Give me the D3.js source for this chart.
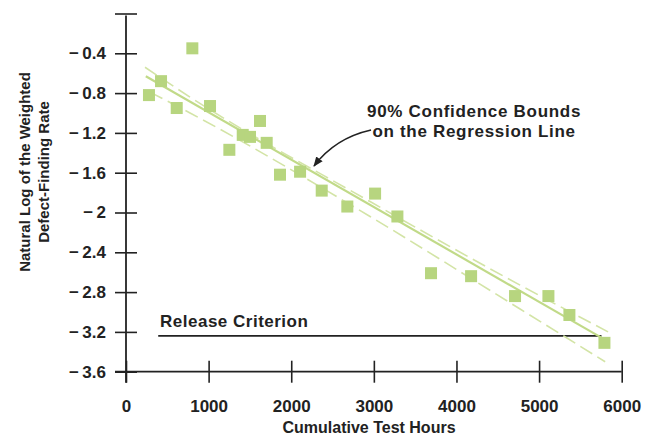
<!DOCTYPE html>
<meta charset="utf-8" />
<style>
  body { margin: 0; background: #fff; }
  text { font-family: "Liberation Sans", Arial, Helvetica, sans-serif; font-weight: bold; fill: #222; }
</style>
<script src="https://cdn.jsdelivr.net/npm/d3@7"></script>

<svg width="652" height="436" id="chart"></svg>

<script>
  // test data
  var hours    = [278, 424, 803, 614, 1017, 1251, 1413, 1501, 1622, 1703, 1864, 2107, 2369, 2679, 3015, 3285, 3692, 4177, 4709, 5113, 5367, 5791];
  var logRate  = [-0.82, -0.68, -0.35, -0.95, -0.93, -1.37, -1.22, -1.24, -1.08, -1.30, -1.62, -1.59, -1.78, -1.94, -1.81, -2.04, -2.61, -2.64, -2.84, -2.84, -3.03, -3.31];

  // regression line and its 90% bounds
  var regHours    = [240, 5760];
  var regValues   = [-0.63, -3.26];
  var upperHours  = [230, 775, 2954, 4770, 5835];
  var upperValues = [-0.54, -0.84, -1.89, -2.73, -3.20];
  var lowerHours  = [290, 775, 2954, 4770, 5800];
  var lowerValues = [-0.79, -1.00, -2.04, -2.97, -3.50];

  var releaseLevel = -3.24;
  var releaseHours = [390, 5755];

  var xTicks = [0, 1000, 2000, 3000, 4000, 5000, 6000];
  var yTicks = [0, -0.4, -0.8, -1.2, -1.6, -2, -2.4, -2.8, -3.2, -3.6];

  var svg = d3.select("#chart");

  var x = d3.scaleLinear().domain([0, 6000]).range([126, 621.7]);
  var y = d3.scaleLinear().domain([-3.6, -0.4]).range([371.7, 53.3]);

  var zip = function (a, b) { return a.map(function (v, i) { return [v, b[i]]; }); };

  // axes
  var yAxis = svg.append("g")
    .attr("transform", "translate(" + x(0) + ",0)")
    .call(d3.axisLeft(y).tickValues(yTicks).tickSize(11).tickPadding(9)
      .tickFormat(function (d) { return d === 0 ? "" : "\u2212\u2009" + Math.abs(d); }));
  yAxis.select(".domain").remove();
  yAxis.selectAll(".tick line").attr("x1", 11).attr("stroke", "#222").attr("stroke-width", 1.6);
  yAxis.selectAll(".tick text").style("font-size", "17px").attr("fill", "#222");

  var xAxis = svg.append("g")
    .attr("transform", "translate(0," + y(-3.6) + ")")
    .call(d3.axisBottom(x).tickValues(xTicks).tickSize(11).tickFormat(d3.format("d")));
  xAxis.select(".domain").remove();
  xAxis.selectAll(".tick line").attr("y1", -11).attr("stroke", "#222").attr("stroke-width", 1.6);
  xAxis.selectAll(".tick text").attr("y", 28).style("font-size", "17px").attr("fill", "#222");

  svg.append("line")
    .attr("x1", x(0)).attr("x2", x(0))
    .attr("y1", y(0) + 2).attr("y2", y(-3.6) + 11)
    .attr("stroke", "#222").attr("stroke-width", 1.8);
  svg.append("line")
    .attr("x1", x(0) - 11).attr("x2", x(6000))
    .attr("y1", y(-3.6)).attr("y2", y(-3.6))
    .attr("stroke", "#222").attr("stroke-width", 1.8);

  // axis titles
  svg.append("text")
    .attr("transform", "translate(30," + 172 + ")rotate(-90)")
    .attr("text-anchor", "middle")
    .style("font-size", "15px")
    .text("Natural Log of the Weighted");
  svg.append("text")
    .attr("transform", "translate(49," + 172 + ")rotate(-90)")
    .attr("text-anchor", "middle")
    .style("font-size", "15px")
    .text("Defect-Finding Rate");
  svg.append("text")
    .attr("x", 369).attr("y", 433)
    .attr("text-anchor", "middle")
    .style("font-size", "16px")
    .text("Cumulative Test Hours");

  // release criterion
  svg.append("line")
    .attr("x1", x(releaseHours[0])).attr("x2", x(releaseHours[1]))
    .attr("y1", y(releaseLevel)).attr("y2", y(releaseLevel))
    .attr("stroke", "#222").attr("stroke-width", 1.6);
  svg.append("text")
    .attr("x", x(412)).attr("y", y(-3.148))
    .style("font-size", "17px").style("letter-spacing", "0.5px")
    .text("Release Criterion");

  // bounds and regression line
  var line = d3.line().x(function (d) { return x(d[0]); }).y(function (d) { return y(d[1]); });
  var curve = d3.line().curve(d3.curveMonotoneX).x(function (d) { return x(d[0]); }).y(function (d) { return y(d[1]); });

  svg.append("path").datum(zip(upperHours, upperValues)).attr("d", curve)
    .attr("fill", "none").attr("stroke", "#d3e4a6").attr("stroke-width", 1.6).attr("stroke-dasharray", "14,6");
  svg.append("path").datum(zip(lowerHours, lowerValues)).attr("d", curve)
    .attr("fill", "none").attr("stroke", "#d3e4a6").attr("stroke-width", 1.6).attr("stroke-dasharray", "14,6");
  svg.append("path").datum(zip(regHours, regValues)).attr("d", line)
    .attr("fill", "none").attr("stroke", "#c1da88").attr("stroke-width", 2.2);

  // data squares
  svg.append("g")
    .selectAll("rect")
    .data(zip(hours, logRate))
    .enter()
    .append("rect")
    .attr("x", function (d) { return x(d[0]) - 6; })
    .attr("y", function (d) { return y(d[1]) - 6; })
    .attr("width", 12).attr("height", 12)
    .attr("fill", "#b7d57f");

  // annotation
  svg.append("text")
    .attr("x", x(4213)).attr("y", y(-1.037))
    .attr("text-anchor", "middle")
    .style("font-size", "17px").style("letter-spacing", "0.7px")
    .text("90% Confidence Bounds");
  svg.append("text")
    .attr("x", x(4213)).attr("y", y(-1.244))
    .attr("text-anchor", "middle")
    .style("font-size", "17px").style("letter-spacing", "0.7px")
    .text("on the Regression Line");

  svg.append("defs").append("marker")
    .attr("id", "head").attr("viewBox", "0 0 10 10")
    .attr("refX", 9).attr("refY", 5)
    .attr("markerWidth", 10).attr("markerHeight", 10)
    .attr("markerUnits", "userSpaceOnUse")
    .attr("orient", "auto")
    .append("path").attr("d", "M0,1L10,5L0,9z").attr("fill", "#222");

  var a0 = [x(2966), y(-1.171)], ac = [x(2530), y(-1.252)], a1 = [x(2276), y(-1.533)];
  svg.append("path")
    .attr("d", "M" + a0 + "Q" + ac + " " + a1)
    .attr("fill", "none").attr("stroke", "#222").attr("stroke-width", 1.5)
    .attr("marker-end", "url(#head)");
</script>
